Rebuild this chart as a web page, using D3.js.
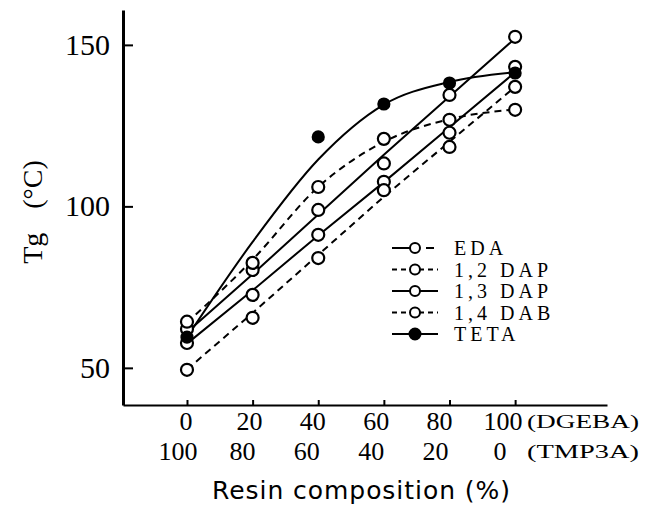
<!DOCTYPE html>
<html>
<head>
<meta charset="utf-8">
<script src="https://cdn.jsdelivr.net/npm/d3@7"></script>
<style>
  body { margin: 0; background: #fff; }
</style>
</head>
<body>
<svg id="chart" width="647" height="522"></svg>
<script>
// resin composition, % DGEBA (upper row) and % TMP3A (lower row)
const composition = [0, 20, 40, 60, 80, 100];
const tmp3a = [100, 80, 60, 40, 20, 0];
const yTicks = [50, 100, 150];

// Tg (deg C)
const eda = [62, 80.3, 98.9, 113.3, 134.5, 152.5];
const dap12 = [64.3, 82.5, 106, 120.9, 126.8, 129.9];
const dap13 = [57.7, 72.6, 91.2, 107.6, 122.8, 143.2];
const dab14 = [49.4, 65.5, 84, 105, 118.4, 137];
const tetaX = [0, 40, 60, 80, 100];
const teta = [59.5, 121.5, 131.7, 138.2, 141.3];

// the drawn (fitted) curves, read at each composition
const edaLine = [61, 79, 97.5, 116, 134, 152];
const dap12Line = [64, 83.5, 106, 120, 127, 130];
const dap13Line = [57.5, 74, 91, 107.5, 124.5, 141.5];
const dab14Line = [49.5, 67, 85, 103, 120, 137];
const tetaLine = [59.5, 89, 114.5, 131.5, 138.5, 141.5];

const series = [
  { name: "EDA", xs: composition, pts: eda, line: edaLine, dashed: false, filled: false, curve: d3.curveLinear },
  { name: "1,2 DAP", xs: composition, pts: dap12, line: dap12Line, dashed: true, filled: false, curve: d3.curveMonotoneX },
  { name: "1,3 DAP", xs: composition, pts: dap13, line: dap13Line, dashed: false, filled: false, curve: d3.curveLinear },
  { name: "1,4 DAB", xs: composition, pts: dab14, line: dab14Line, dashed: true, filled: false, curve: d3.curveLinear },
  { name: "TETA", xs: tetaX, pts: teta, line: tetaLine, dashed: false, filled: true, curve: d3.curveMonotoneX }
];

const DASH = "7,5";
const INK = "#000";
const serif = "'Liberation Serif', 'DejaVu Serif', serif";

const svg = d3.select("#chart");

const x = d3.scaleLinear().domain([-19.5, 128]).range([123, 607]);
const y = d3.scaleLinear().domain([38.5, 160.8]).range([405, 10]);
// tick labels are typed a little off the data columns
const xLab = d3.scaleLinear().domain([0, 100]).range([186, 503]);
const xLab2 = d3.scaleLinear().domain([0, 100]).range([178, 500]);

// y axis, ticks pointing inward
const gy = svg.append("g")
  .attr("transform", `translate(${x.range()[0]},0)`)
  .call(d3.axisLeft(y).tickValues(yTicks).tickSize(-10).tickSizeOuter(0).tickPadding(13));
gy.select(".domain").attr("stroke", INK).attr("stroke-width", 3);
gy.selectAll(".tick line").attr("stroke", INK).attr("stroke-width", 2);
gy.selectAll(".tick text")
  .attr("font-family", serif)
  .attr("font-size", 30)
  .attr("fill", INK);

// x axis, small ticks pointing up
const gx = svg.append("g")
  .attr("transform", `translate(0,${y.range()[0]})`)
  .call(d3.axisBottom(x).tickValues(composition).tickSize(-5).tickSizeOuter(0).tickFormat(""));
gx.select(".domain").attr("stroke", INK).attr("stroke-width", 2);
gx.selectAll(".tick line").attr("stroke", INK).attr("stroke-width", 2);

// two rows of composition labels
svg.append("g").selectAll("text")
  .data(composition)
  .join("text")
  .attr("x", d => xLab(d))
  .attr("y", 430)
  .attr("text-anchor", "middle")
  .attr("font-family", serif)
  .attr("font-size", 26)
  .attr("fill", INK)
  .text(d => d);

svg.append("g").selectAll("text")
  .data(tmp3a)
  .join("text")
  .attr("x", (d, i) => xLab2(composition[i]))
  .attr("y", 460)
  .attr("text-anchor", "middle")
  .attr("font-family", serif)
  .attr("font-size", 26)
  .attr("fill", INK)
  .text(d => d);

svg.append("text")
  .attr("x", 527).attr("y", 428)
  .attr("font-family", serif).attr("font-size", 18).attr("fill", INK)
  .attr("textLength", 112).attr("lengthAdjust", "spacingAndGlyphs")
  .text("(DGEBA)");
svg.append("text")
  .attr("x", 527).attr("y", 458)
  .attr("font-family", serif).attr("font-size", 18).attr("fill", INK)
  .attr("textLength", 112).attr("lengthAdjust", "spacingAndGlyphs")
  .text("(TMP3A)");

// axis titles
svg.append("text")
  .attr("x", 212).attr("y", 499)
  .attr("font-family", "'DejaVu Sans', sans-serif")
  .attr("font-size", 25)
  .attr("fill", INK)
  .attr("textLength", 298).attr("lengthAdjust", "spacing")
  .text("Resin composition (%)");

const ylab = svg.append("text")
  .attr("transform", "translate(42,212) rotate(-90)")
  .attr("text-anchor", "middle")
  .attr("font-family", serif)
  .attr("font-size", 28)
  .attr("fill", INK);
ylab.append("tspan").text("Tg");
ylab.append("tspan").attr("dx", 24).text("(\u00B0C)");

// curves
const line = d3.line().x(d => x(d[0])).y(d => y(d[1]));
const gLines = svg.append("g")
  .attr("fill", "none")
  .attr("stroke", INK)
  .attr("stroke-width", 2);
gLines.selectAll("path")
  .data(series)
  .join("path")
  .attr("stroke-dasharray", d => d.dashed ? DASH : null)
  .attr("d", d => line.curve(d.curve)(composition.map((c, i) => [c, d.line[i]])));

// points
const gPts = svg.append("g");
series.forEach(s => {
  gPts.append("g").selectAll("circle")
    .data(s.xs.map((c, i) => [c, s.pts[i]]))
    .join("circle")
    .attr("cx", d => x(d[0]))
    .attr("cy", d => y(d[1]))
    .attr("r", s.filled ? 5.5 : 6)
    .attr("fill", s.filled ? INK : "#fff")
    .attr("stroke", INK)
    .attr("stroke-width", 2.2);
});

// legend
const legend = svg.append("g").attr("transform", "translate(390,248)");
const rows = legend.selectAll("g")
  .data(series)
  .join("g")
  .attr("transform", (d, i) => `translate(0,${i * 21.5})`);
rows.append("line")
  .attr("x1", 2).attr("x2", 48).attr("y1", 0).attr("y2", 0)
  .attr("stroke", INK).attr("stroke-width", 2)
  .attr("stroke-dasharray", d => d.dashed ? "5,4" : (d.name === "EDA" ? "28,6,8,20" : null));
rows.append("circle")
  .attr("cx", 25).attr("cy", 0)
  .attr("r", d => d.filled ? 5.5 : 5)
  .attr("fill", d => d.filled ? INK : "#fff")
  .attr("stroke", INK).attr("stroke-width", 2);
rows.append("text")
  .attr("x", 64).attr("y", 7)
  .attr("font-family", serif)
  .attr("font-size", 20)
  .attr("letter-spacing", 4)
  .attr("fill", INK)
  .text(d => d.name);
</script>
</body>
</html>
